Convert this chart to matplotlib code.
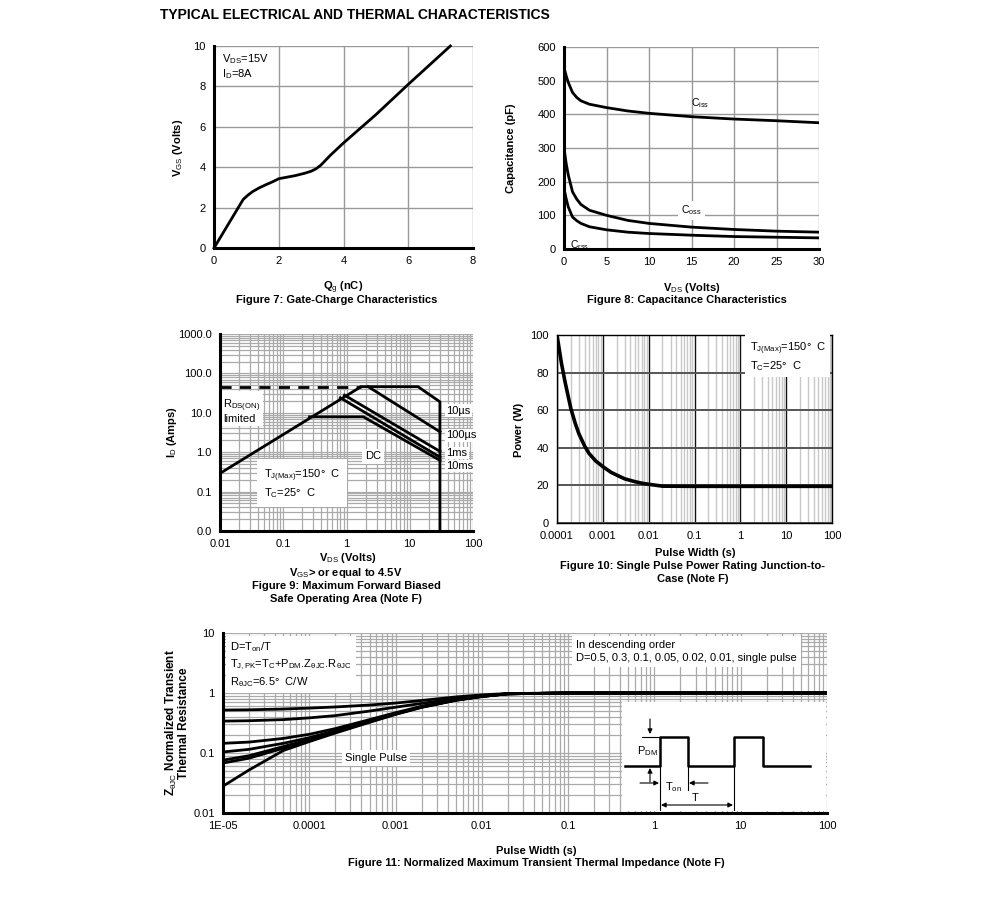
import matplotlib
matplotlib.use("Agg")
import matplotlib.pyplot as plt
import numpy as np
from matplotlib.ticker import FixedLocator, FixedFormatter, LogLocator, NullFormatter

plt.rcParams['font.family'] = ['Liberation Sans', 'DejaVu Sans']
plt.rcParams['mathtext.fontset'] = 'custom'
plt.rcParams['mathtext.rm'] = 'Liberation Sans'
plt.rcParams['mathtext.it'] = 'Liberation Sans:italic'
plt.rcParams['mathtext.bf'] = 'Liberation Sans:bold'

# ---------------- data ----------------
# Fig 7 gate charge
qg = [0, 0.3, 0.6, 0.9, 1.05, 1.2, 1.4, 1.6, 1.8, 2.0, 2.5, 2.8, 3.0, 3.15, 3.3, 3.6,
      4.0, 5.0, 6.0, 7.3]
vgs = [0, 0.8, 1.6, 2.4, 2.62, 2.8, 2.98, 3.13, 3.27, 3.43, 3.58, 3.7, 3.8, 3.92, 4.1,
       4.6, 5.2, 6.6, 8.1, 10.0]

# Fig 8 capacitance
vds_c = [0, 0.25, 0.5, 1, 1.5, 2, 3, 5, 7.5, 10, 15, 20, 25, 30]
ciss = [540, 515, 495, 465, 450, 440, 430, 420, 410, 403, 393, 386, 381, 375]
coss = [300, 255, 220, 170, 148, 132, 115, 100, 85, 76, 65, 58, 53, 50]
crss = [180, 150, 125, 95, 84, 76, 66, 57, 50, 46, 41, 37, 35, 33]

# Fig 9 SOA
rds_v = [0.01, 1.7]
rds_i = [0.29, 46]
lim_v = [0.01, 1.7]
lim_i = [46, 46]
us10_v = [1.7, 13.5, 30, 30]
us10_i = [46, 46, 19, 0.01]
us100_v = [2.2, 30]
us100_i = [46, 3.3]
ms1_v = [0.93, 30]
ms1_i = [28, 1.05]
ms10_v = [0.8, 30]
ms10_i = [24, 0.75]
dc_v = [0.26, 1.85, 30]
dc_i = [7.9, 7.9, 0.62]

# Fig 10 single pulse power
tp = [1e-4, 1.25e-4, 1.5e-4, 2e-4, 2.5e-4, 3e-4, 4e-4, 5e-4, 7e-4, 1e-3, 1.5e-3,
      2e-3, 3e-3, 5e-3, 7e-3, 1e-2, 2e-2, 0.1, 1, 10, 100]
pw = [100, 85, 75, 61, 53, 47.5, 41, 37, 33, 30, 27, 25.5, 23.5, 22, 21.2, 20.6,
      19.6, 19.5, 19.5, 19.5, 19.5]

# Fig 11 transient thermal impedance
tz = [1e-5, 2e-5, 5e-5, 1e-4, 2e-4, 5e-4, 1e-3, 2e-3, 5e-3, 1e-2, 2e-2, 0.1, 1, 10, 100]
z_d05 = [0.52, 0.525, 0.54, 0.56, 0.585, 0.63, 0.68, 0.75, 0.86, 0.93, 0.98, 1, 1, 1, 1]
z_d03 = [0.34, 0.345, 0.36, 0.385, 0.42, 0.5, 0.58, 0.67, 0.81, 0.9, 0.97, 1, 1, 1, 1]
z_d01 = [0.145, 0.152, 0.175, 0.205, 0.255, 0.36, 0.47, 0.6, 0.78, 0.89, 0.97, 1, 1, 1, 1]
z_d005 = [0.104, 0.115, 0.145, 0.18, 0.235, 0.345, 0.455, 0.59, 0.77, 0.88, 0.97, 1, 1, 1, 1]
z_d002 = [0.076, 0.09, 0.128, 0.168, 0.225, 0.335, 0.45, 0.585, 0.765, 0.88, 0.97, 1, 1, 1, 1]
z_d001 = [0.068, 0.082, 0.12, 0.162, 0.22, 0.33, 0.445, 0.58, 0.76, 0.875, 0.97, 1, 1, 1, 1]
z_single = [0.028, 0.052, 0.11, 0.155, 0.215, 0.325, 0.44, 0.575, 0.755, 0.87, 0.97, 1, 1, 1, 1]

# ---------------- figure ----------------
W, H = 991, 901
fig = plt.figure(figsize=(W / 100, H / 100), dpi=100)
fig.patch.set_facecolor('white')

def px_axes(l, t, r, b):
    return fig.add_axes([l / W, 1 - b / H, (r - l) / W, (b - t) / H])

def ftext(x, y, s, **kw):
    kw.setdefault('ha', 'center')
    kw.setdefault('va', 'center')
    kw.setdefault('fontsize', 8)
    fig.text(x / W, 1 - y / H, s, **kw)

def style(ax):
    for s in ['top', 'right']:
        ax.spines[s].set_visible(False)
    for s in ['left', 'bottom']:
        ax.spines[s].set_linewidth(2.2)
        ax.spines[s].set_zorder(5)
    ax.tick_params(length=0, labelsize=8, pad=6)
    ax.tick_params(which='minor', length=0)

LW = 2.0
wbox = dict(facecolor='white', edgecolor='none', pad=2)

ftext(160, 15, 'TYPICAL ELECTRICAL AND THERMAL CHARACTERISTICS', ha='left',
      fontsize=10, fontweight='bold')

# ----- Fig 7 -----
ax7 = px_axes(214, 46, 473, 248)
ax7.plot(qg, vgs, color='k', lw=LW, zorder=3, clip_on=False)
ax7.set_xlim(0, 8)
ax7.set_ylim(0, 10)
ax7.set_xticks([0, 2, 4, 6, 8])
ax7.set_yticks([0, 2, 4, 6, 8, 10])
ax7.grid(True, color='#999999', lw=1.0)
style(ax7)
ax7.text(0.25, 9.7, r'V$_{\rm DS}$=15V' + '\n' + r'I$_{\rm D}$=8A', fontsize=8,
         va='top', ha='left', bbox=wbox, linespacing=1.1, zorder=4)
ftext(178, 148, r'V$_{\rm GS}$ (Volts)', rotation=90, fontweight='bold')
ftext(343, 288, r'Q$_{\rm g}$ (nC)', fontweight='bold')
ftext(337, 300, 'Figure 7: Gate-Charge Characteristics', fontweight='bold')

# ----- Fig 8 -----
ax8 = px_axes(564, 47, 819, 249)
ax8.plot(vds_c, ciss, color='k', lw=LW, zorder=3)
ax8.plot(vds_c, coss, color='k', lw=LW, zorder=3)
ax8.plot(vds_c, crss, color='k', lw=LW, zorder=3)
ax8.set_xlim(0, 30)
ax8.set_ylim(0, 600)
ax8.set_xticks([0, 5, 10, 15, 20, 25, 30])
ax8.set_yticks([0, 100, 200, 300, 400, 500, 600])
ax8.grid(True, color='#999999', lw=1.0)
style(ax8)
ax8.text(16, 432, r'C$_{\rm iss}$', fontsize=7.5, ha='center', va='center', zorder=4)
ax8.text(15, 115, r'C$_{\rm oss}$', fontsize=7.5, ha='center', va='center', bbox=wbox, zorder=4)
ax8.text(1.8, 12, r'C$_{\rm rss}$', fontsize=7.5, ha='center', va='center', zorder=4)
ftext(511, 148, 'Capacitance (pF)', rotation=90, fontweight='bold')
ftext(692, 288, r'V$_{\rm DS}$ (Volts)', fontweight='bold')
ftext(687, 300, 'Figure 8: Capacitance Characteristics', fontweight='bold')

# ----- Fig 9 -----
ax9 = px_axes(220, 334, 473, 531)
ax9.set_xscale('log')
ax9.set_yscale('log')
ax9.set_xlim(0.01, 100)
ax9.set_ylim(0.01, 1000)
ax9.plot(rds_v, rds_i, color='k', lw=LW, zorder=3, solid_capstyle='butt')
ax9.plot(lim_v, lim_i, color='k', lw=LW, ls=(0, (4, 3)), zorder=3)
ax9.plot(us10_v, us10_i, color='k', lw=LW, zorder=3, clip_on=False)
ax9.plot(us100_v, us100_i, color='k', lw=LW, zorder=3)
ax9.plot(ms1_v, ms1_i, color='k', lw=LW, zorder=3)
ax9.plot(ms10_v, ms10_i, color='k', lw=LW, zorder=3)
ax9.plot(dc_v, dc_i, color='k', lw=LW, zorder=3)
ax9.xaxis.set_major_locator(FixedLocator([0.01, 0.1, 1, 10, 100]))
ax9.xaxis.set_major_formatter(FixedFormatter(['0.01', '0.1', '1', '10', '100']))
ax9.yaxis.set_major_locator(FixedLocator([0.01, 0.1, 1, 10, 100, 1000]))
ax9.yaxis.set_major_formatter(FixedFormatter(['0.0', '0.1', '1.0', '10.0', '100.0', '1000.0']))
ax9.xaxis.set_minor_locator(LogLocator(base=10, subs=np.arange(2, 10)))
ax9.yaxis.set_minor_locator(LogLocator(base=10, subs=np.arange(2, 10)))
ax9.xaxis.set_minor_formatter(NullFormatter())
ax9.yaxis.set_minor_formatter(NullFormatter())
ax9.grid(True, which='both', color='#aaaaaa', lw=0.9)
style(ax9)
ax9.text(0.0112, 11.5, r'R$_{\rm DS(ON)}$' + '\n' + 'limited', fontsize=8, ha='left',
         va='center', bbox=wbox, linespacing=1.0, zorder=4)
ax9.text(2.6, 0.78, 'DC', fontsize=8, ha='center', va='center', bbox=wbox, zorder=4)
ax9.text(0.05, 0.16, r'T$_{\rm J(Max)}$=150°  C' + '\n' + r'T$_{\rm C}$=25°  C', fontsize=8,
         ha='left', va='center', bbox=dict(facecolor='white', edgecolor='none', pad=5),
         linespacing=1.2, zorder=4)
for lab, yv in [('10µs', 11.3), ('100µs', 2.7), ('1ms', 0.95), ('10ms', 0.45)]:
    ax9.text(38, yv, lab, fontsize=8, ha='left', va='center',
             bbox=dict(facecolor='white', edgecolor='none', pad=1), zorder=4)
ftext(172, 432, r'I$_{\rm D}$ (Amps)', rotation=90, fontweight='bold')
ftext(348, 558, r'V$_{\rm DS}$ (Volts)', fontweight='bold')
ftext(346, 573, r'V$_{\rm GS}$> or equal to 4.5V', fontweight='bold')
ftext(346, 586, 'Figure 9: Maximum Forward Biased', fontweight='bold')
ftext(346, 599, 'Safe Operating Area (Note F)', fontweight='bold')

# ----- Fig 10 -----
ax10 = px_axes(557, 335, 832, 523)
ax10.set_xscale('log')
ax10.set_xlim(1e-4, 100)
ax10.set_ylim(0, 100)
ax10.plot(tp, pw, color='k', lw=2.6, zorder=3)
ax10.xaxis.set_major_locator(FixedLocator([1e-4, 1e-3, 1e-2, 0.1, 1, 10, 100]))
ax10.xaxis.set_major_formatter(FixedFormatter(['0.0001', '0.001', '0.01', '0.1', '1', '10', '100']))
ax10.xaxis.set_minor_locator(LogLocator(base=10, subs=np.arange(2, 10)))
ax10.xaxis.set_minor_formatter(NullFormatter())
ax10.set_yticks([0, 20, 40, 60, 80, 100])
ax10.grid(True, which='minor', axis='x', color='#c8c8c8', lw=1.0)
ax10.grid(True, which='major', axis='x', color='#111111', lw=1.0)
ax10.grid(True, which='major', axis='y', color='#555555', lw=1.4)
for s in ax10.spines.values():
    s.set_linewidth(1.0)
ax10.tick_params(length=0, labelsize=8, pad=6)
ax10.tick_params(which='minor', length=0)
ax10.text(0.7, 0.97, r'T$_{\rm J(Max)}$=150°  C' + '\n' + r'T$_{\rm C}$=25°  C',
          transform=ax10.transAxes, fontsize=8, ha='left', va='top',
          bbox=dict(facecolor='white', edgecolor='none', pad=3), linespacing=1.2, zorder=4)
ftext(519, 430, 'Power (W)', rotation=90, fontweight='bold')
ftext(695, 553, 'Pulse Width (s)', fontweight='bold')
ftext(693, 566, 'Figure 10: Single Pulse Power Rating Junction-to-', fontweight='bold')
ftext(693, 579, 'Case (Note F)', fontweight='bold')

# ----- Fig 11 -----
ax11 = px_axes(223, 633, 827, 813)
ax11.set_xscale('log')
ax11.set_yscale('log')
ax11.set_xlim(1e-5, 100)
ax11.set_ylim(0.01, 10)
for z in [z_d05, z_d03, z_d01, z_d005, z_d002, z_d001, z_single]:
    ax11.plot(tz, z, color='k', lw=2.0, zorder=3)
ax11.xaxis.set_major_locator(FixedLocator([1e-5, 1e-4, 1e-3, 1e-2, 0.1, 1, 10, 100]))
ax11.xaxis.set_major_formatter(FixedFormatter(['1E-05', '0.0001', '0.001', '0.01', '0.1', '1', '10', '100']))
ax11.yaxis.set_major_locator(FixedLocator([0.01, 0.1, 1, 10]))
ax11.yaxis.set_major_formatter(FixedFormatter(['0.01', '0.1', '1', '10']))
ax11.xaxis.set_minor_locator(LogLocator(base=10, subs=np.arange(2, 10)))
ax11.yaxis.set_minor_locator(LogLocator(base=10, subs=np.arange(2, 10)))
ax11.xaxis.set_minor_formatter(NullFormatter())
ax11.yaxis.set_minor_formatter(NullFormatter())
ax11.grid(True, which='both', color='#aaaaaa', lw=0.9)
style(ax11)
ax11.text(0.012, 0.96, r'D=T$_{\rm on}$/T' + '\n' +
          r'T$_{\rm J,PK}$=T$_{\rm C}$+P$_{\rm DM}$.Z$_{\rm \theta JC}$.R$_{\rm \theta JC}$' + '\n' +
          r'R$_{\rm \theta JC}$=6.5°  C/W', transform=ax11.transAxes, fontsize=8,
          ha='left', va='top', bbox=dict(facecolor='white', edgecolor='none', pad=3),
          linespacing=1.35, zorder=4)
ax11.text(0.585, 0.96, 'In descending order\nD=0.5, 0.3, 0.1, 0.05, 0.02, 0.01, single pulse',
          transform=ax11.transAxes, fontsize=8, ha='left', va='top',
          bbox=dict(facecolor='white', edgecolor='none', pad=3), linespacing=1.35, zorder=4)
ax11.text(0.00026, 0.083, 'Single Pulse', fontsize=8, ha='left', va='center',
          bbox=dict(facecolor='white', edgecolor='none', pad=2), zorder=4)
ftext(177, 723, r'Z$_{\rm \theta JC}$ Normalized Transient' + '\n' + 'Thermal Resistance',
      rotation=90, fontweight='bold', fontsize=8.5, linespacing=0.9, multialignment='center')
ftext(536, 851, 'Pulse Width (s)', fontweight='bold')
ftext(536, 863, 'Figure 11: Normalized Maximum Transient Thermal Impedance (Note F)', fontweight='bold')

# inset pulse diagram (pixel coordinate system of the inset box)
axi = px_axes(622, 702, 826, 811)
axi.set_xlim(622, 826)
axi.set_ylim(811, 702)
axi.set_facecolor('white')
for s in axi.spines.values():
    s.set_visible(False)
axi.set_xticks([])
axi.set_yticks([])
wave_x = [625, 660, 660, 688, 688, 734, 734, 763, 763, 810]
wave_y = [766, 766, 737, 737, 766, 766, 737, 737, 766, 766]
axi.plot(wave_x, wave_y, color='k', lw=1.8)
axi.plot([642, 660], [737, 737], color='k', lw=0.8)
axi.plot([660, 660], [766, 811], color='k', lw=0.8)
axi.plot([688, 688], [766, 790], color='k', lw=0.8)
axi.plot([734, 734], [766, 811], color='k', lw=0.8)
ap = dict(arrowstyle='-|>', color='k', lw=0.8, mutation_scale=7, shrinkA=0, shrinkB=0)
axi.annotate('', xy=(650, 734), xytext=(650, 719), arrowprops=ap)
axi.annotate('', xy=(650, 768), xytext=(650, 782), arrowprops=ap)
axi.annotate('', xy=(659, 783), xytext=(640, 783), arrowprops=ap)
axi.annotate('', xy=(689, 783), xytext=(708, 783), arrowprops=ap)
axi.annotate('', xy=(733, 805), xytext=(661, 805),
             arrowprops=dict(arrowstyle='<|-|>', color='k', lw=0.8, mutation_scale=7, shrinkA=0, shrinkB=0))
axi.text(647, 751, r'P$_{\rm DM}$', fontsize=8, ha='center', va='center')
axi.text(673, 787, r'T$_{\rm on}$', fontsize=8, ha='center', va='center')
axi.text(695, 798, 'T', fontsize=8, ha='center', va='center')

fig.savefig('out.png', dpi=100, facecolor='white')
